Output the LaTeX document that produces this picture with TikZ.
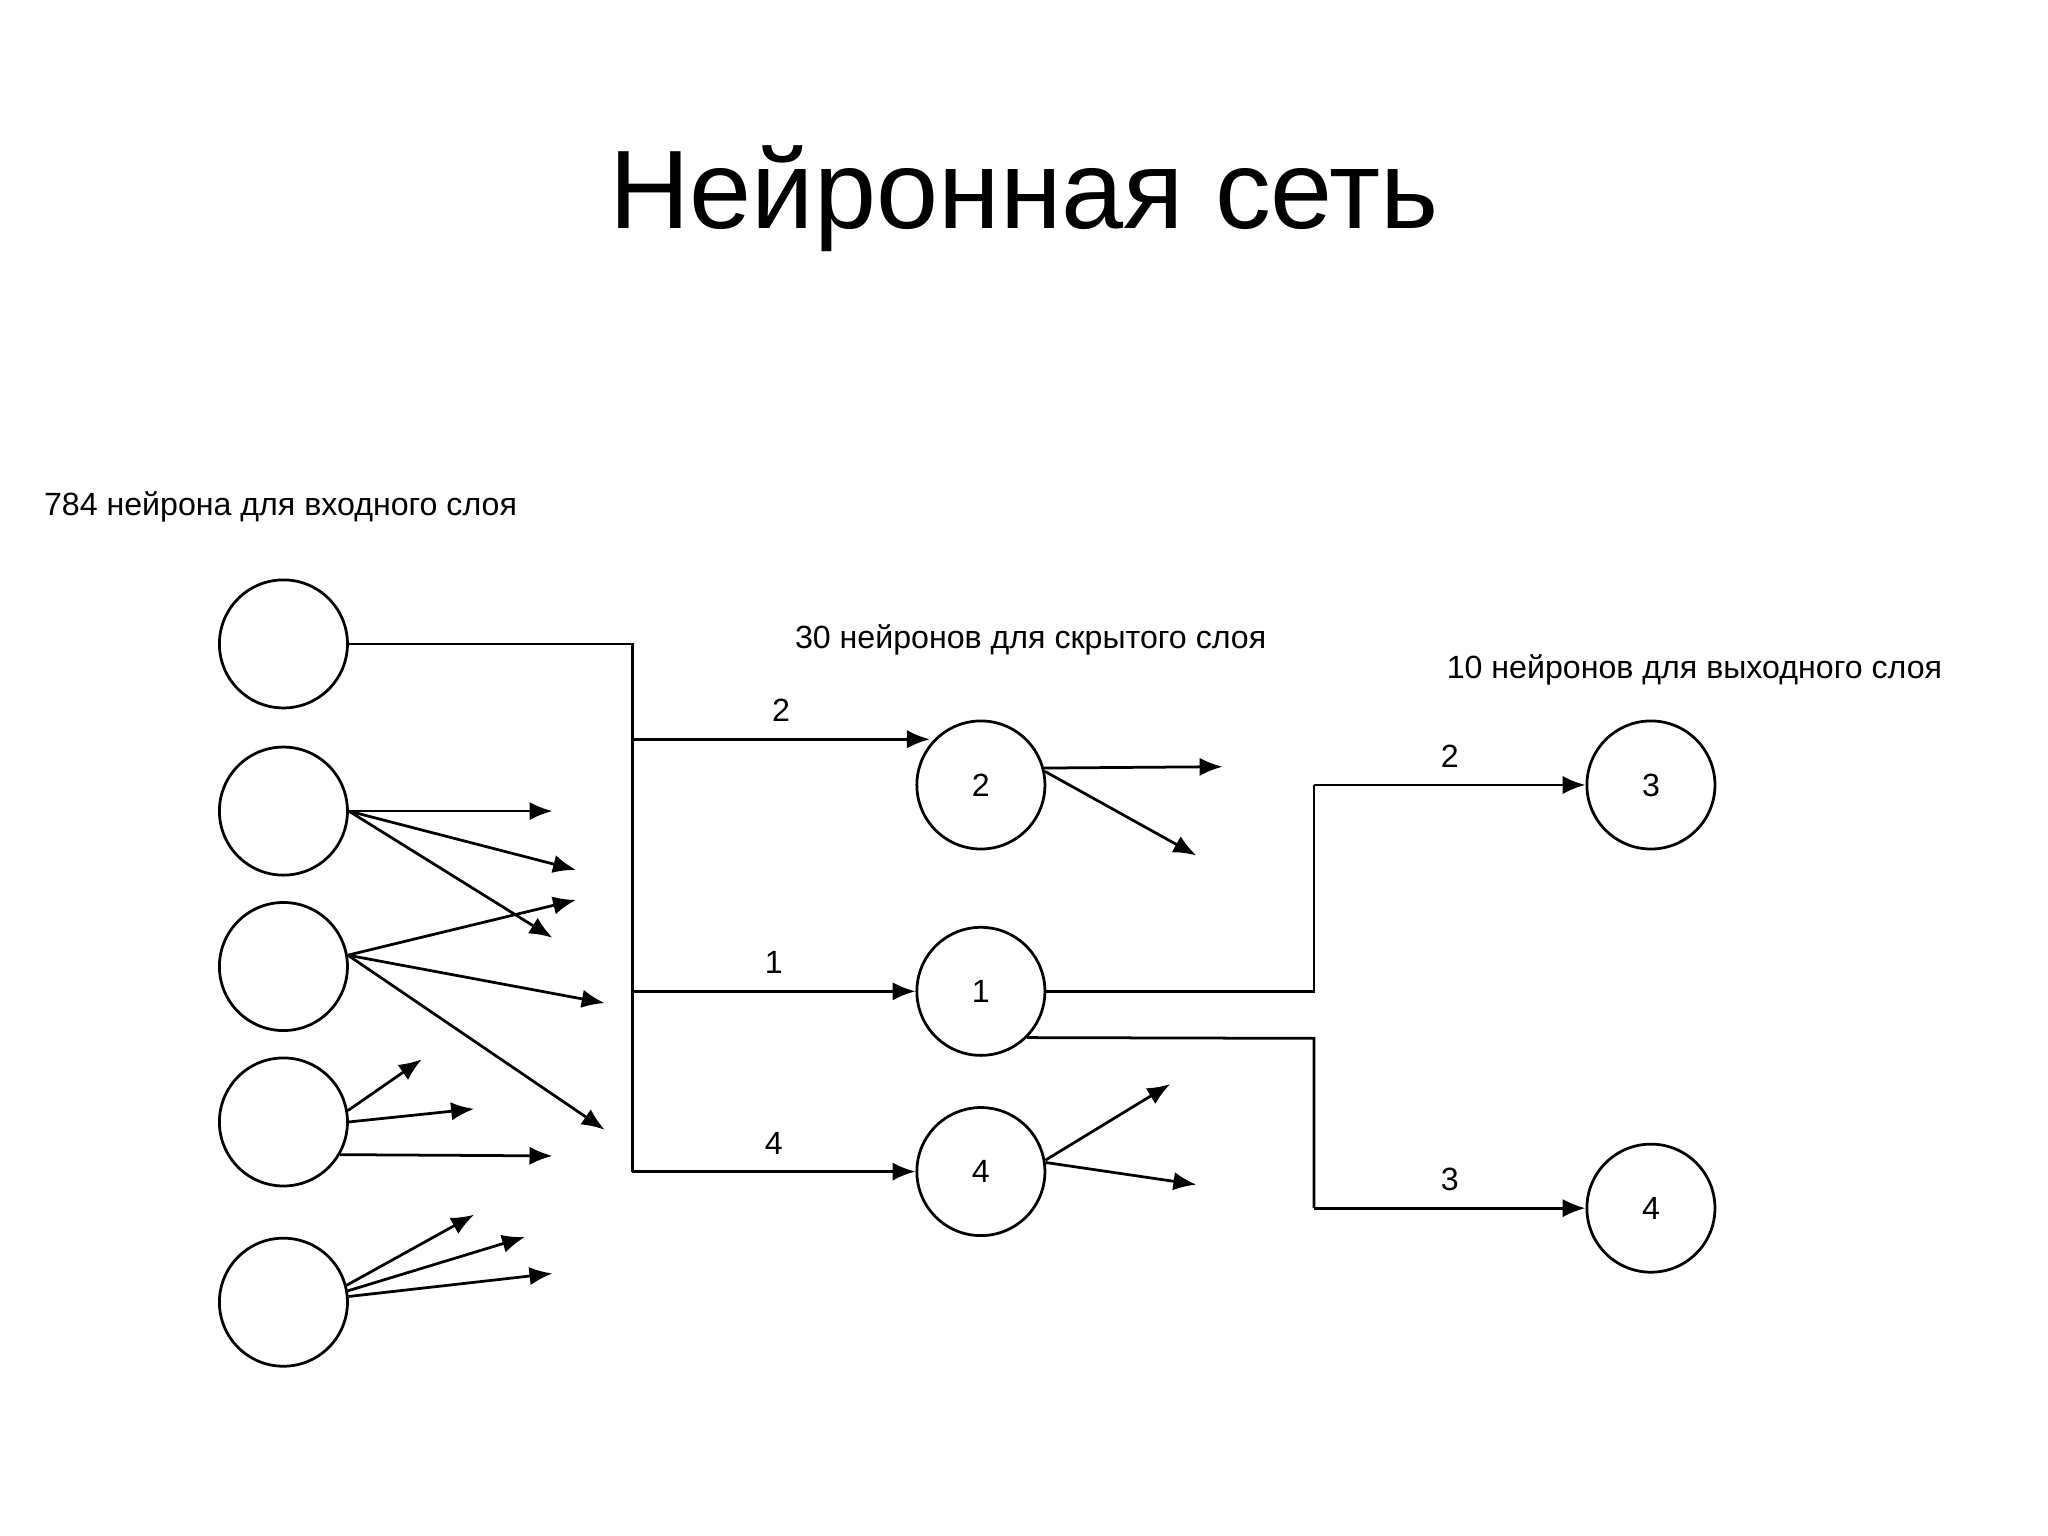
\documentclass[tikz,border=0pt]{standalone}
\usepackage{fontspec}
\setmainfont{Liberation Sans}
\usetikzlibrary{arrows.meta}
\begin{document}
\begin{tikzpicture}[x=0.01cm,y=-0.01cm,
  neuron/.style={circle,draw,line width=0.6pt,minimum size=0.98cm,inner sep=0pt,font=\fontsize{7}{8}\selectfont},
  lbl/.style={font=\fontsize{7}{8}\selectfont,inner sep=0pt},
  elbl/.style={lbl,above=3.5pt},
  arr/.style={-{Latex[length=5pt,width=4pt]},line width=0.6pt},
  ln/.style={line width=0.6pt}]
\useasboundingbox (0,0) rectangle (1568,1176);
\node[font=\fontsize{24.3}{28}\selectfont] (title) at (784,152) {Нейронная сеть};
\node[lbl,anchor=west] (l1) at (33,388) {784 нейрона для входного слоя};
\node[lbl,anchor=west] (l2) at (608,490) {30 нейронов для скрытого слоя};
\node[lbl,anchor=west] (l3) at (1107,513) {10 нейронов для выходного слоя};
% input
\node[neuron] (i1) at (217,493) {};
\node[neuron] (i2) at (217,621) {};
\node[neuron] (i3) at (217,740) {};
\node[neuron] (i4) at (217,859) {};
\node[neuron] (i5) at (217,997) {};
% hidden
\node[neuron] (h2) at (751,601) {2};
\node[neuron] (h1) at (751,759) {1};
\node[neuron] (h4) at (751,897) {4};
% output
\node[neuron] (o3) at (1264,601) {3};
\node[neuron] (o4) at (1264,925) {4};
% coordinates
\coordinate (j1) at (484,493);
\coordinate (j4) at (484,897);
\coordinate (e2) at (712,566);
\draw[ln] (i1.east) -- (j1) -- (j4);
\draw[arr] (484,566) -- node[elbl] {2} (e2);
\draw[arr] (484,759) -- node[elbl] {1} (h1.west);
\draw[arr] (j4) -- node[elbl] {4} (h4.west);
% fans
\draw[arr] (i2.east) -- (423,621);
\draw[arr] (i2.east) -- (441,666);
\draw[arr] (i2.east) -- (423,718);
\draw[arr] (i3.10) -- (441,689);
\draw[arr] (i3.10) -- (463,768);
\draw[arr] (i3.10) -- (463,865);
\draw[arr] (i4.10) -- (323,811);
\draw[arr] (i4.east) -- (363,849);
\draw[arr] (i4.-30) -- (423,885);
\draw[arr] (i5.15) -- (363,930);
\draw[arr] (i5.10) -- (402,947);
\draw[arr] (i5.5) -- (423,975);
\draw[arr] (h2.15) -- (936,587);
\draw[arr] (h2.12) -- (916,655);
\draw[arr] (h4.10) -- (896,830);
\draw[arr] (h4.8) -- (916,907);
% to output
\draw[ln] (h1.east) -- (1006,759) -- (1006,601);
\draw[arr] (1006,601) -- node[elbl] {2} (o3.west);
\draw[ln] (h1.-45) -- (1006,795) -- (1006,925);
\draw[arr] (1006,925) -- node[elbl] {3} (o4.west);
\end{tikzpicture}
\end{document}
